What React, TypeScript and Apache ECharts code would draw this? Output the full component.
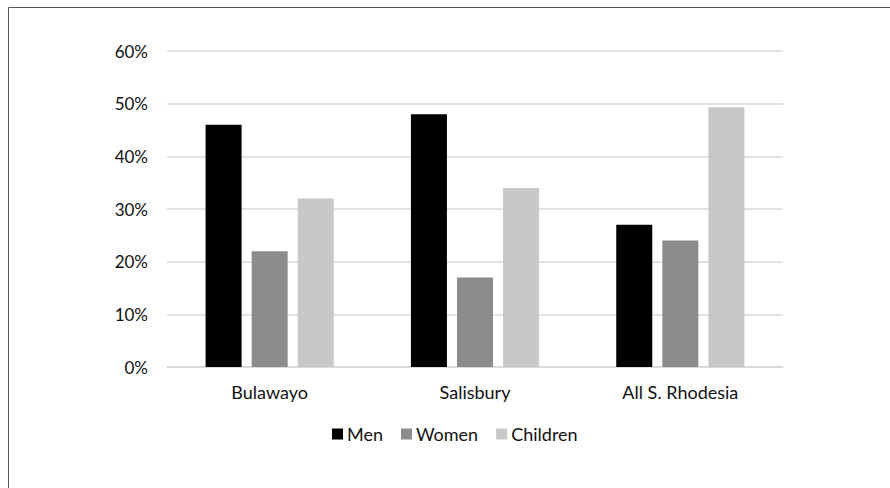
import React, { useEffect, useRef } from "react";
import * as echarts from "echarts";

const categories = ["Bulawayo", "Salisbury", "All S. Rhodesia"];
const men = [46, 48, 27];
const women = [22, 17, 24];
const children = [32, 34, 49.3];
const yTicks = [0, 10, 20, 30, 40, 50, 60];

export default function App() {
  const ref = useRef<HTMLDivElement>(null);
  useEffect(() => {
    if (!ref.current) return;
    const chart = echarts.init(ref.current, null, { renderer: "svg" });
    const font = "Lato, 'Open Sans', sans-serif";
    chart.setOption({
      animation: false,
      backgroundColor: "#ffffff",
      textStyle: { fontFamily: font },
      graphic: [
        {
          type: "rect",
          shape: { x: 8.5, y: 7.5, width: 900, height: 500 },
          style: { fill: "none", stroke: "#555555", lineWidth: 1 },
          silent: true,
        },
      ],
      legend: {
        data: ["Men", "Women", "Children"],
        left: 327,
        top: 420,
        itemWidth: 11,
        itemHeight: 11,
        itemGap: 18,
        icon: "rect",
        textStyle: { fontSize: 18, color: "#111111", fontFamily: font, padding: [0, 0, 0, -1] },
      },
      grid: { left: 167, right: 107, top: 51, bottom: 121, containLabel: false },
      xAxis: {
        type: "category",
        data: categories,
        axisLine: { show: true, lineStyle: { color: "#d9d9d9", width: 1.5 } },
        axisTick: { show: false },
        axisLabel: { color: "#111111", fontSize: 18, margin: 16, fontFamily: font },
      },
      yAxis: {
        type: "value",
        min: yTicks[0],
        max: yTicks[yTicks.length - 1],
        interval: 10,
        axisLine: { show: false },
        axisTick: { show: false },
        splitLine: { lineStyle: { color: "#d9d9d9", width: 1.5 } },
        axisLabel: { color: "#111111", fontSize: 17, margin: 19, formatter: "{value}%", fontFamily: font },
      },
      series: [
        { name: "Men", type: "bar", data: men, itemStyle: { color: "#000000" }, barWidth: 36, barGap: "28%" },
        { name: "Women", type: "bar", data: women, itemStyle: { color: "#8c8c8c" }, barWidth: 36, barGap: "28%" },
        { name: "Children", type: "bar", data: children, itemStyle: { color: "#c8c8c8" }, barWidth: 36, barGap: "28%" },
      ],
    });
    return () => chart.dispose();
  }, []);
  return (
    <div
      ref={ref}
      style={{ position: "absolute", left: 0, top: 0, width: 890, height: 488 }}
    />
  );
}
